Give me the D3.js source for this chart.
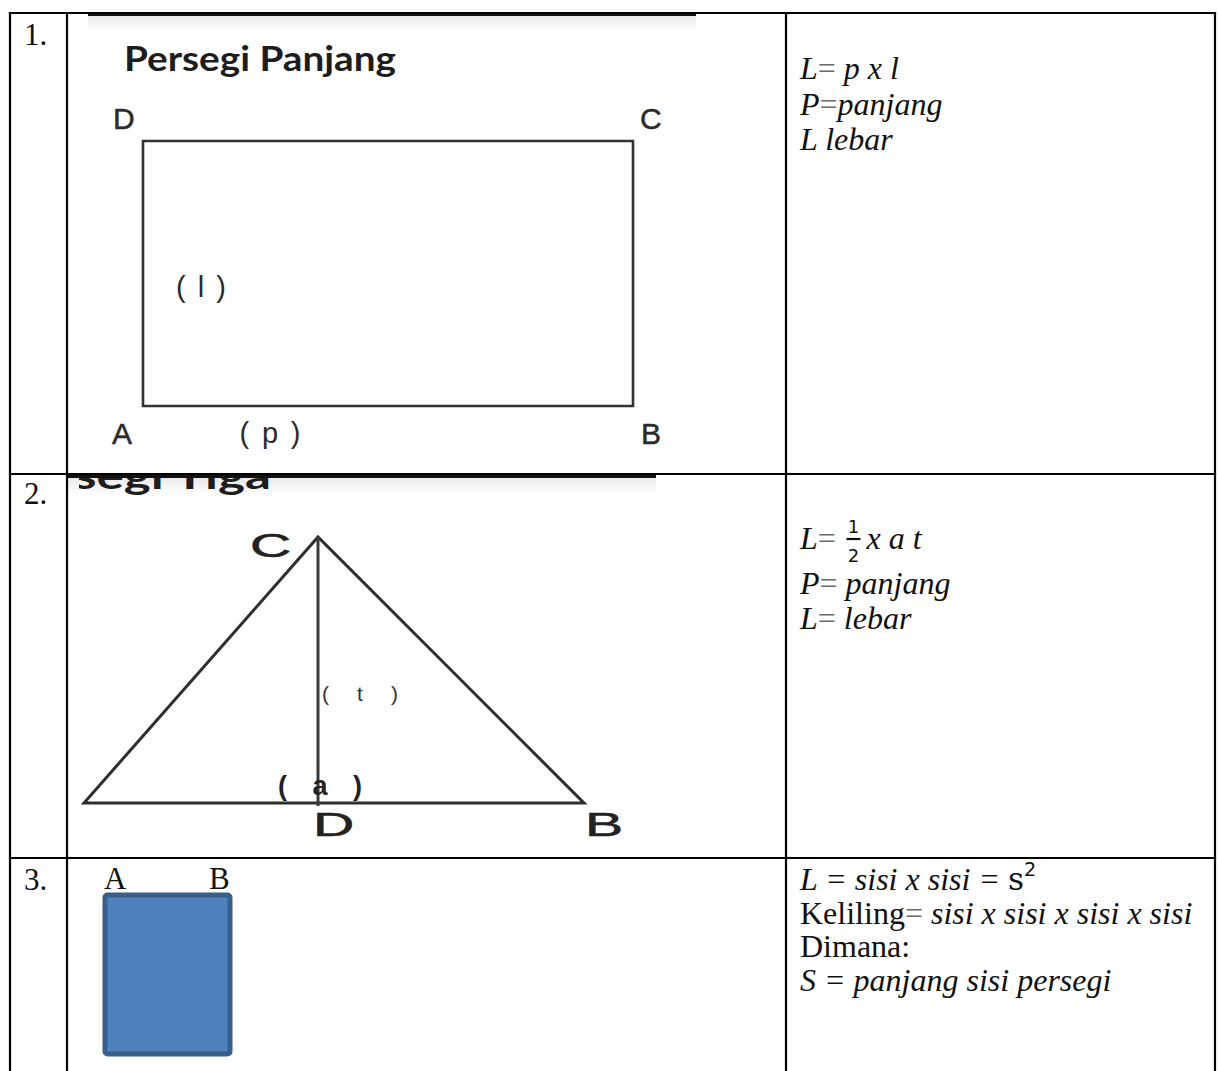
<!DOCTYPE html>
<html>
<head>
<meta charset="utf-8">
<script src="https://cdn.jsdelivr.net/npm/d3@7"></script>
<style>
  html,body{margin:0;padding:0;background:#fff;}
  svg{display:block;}
</style>
</head>
<body>
<svg id="c" width="1218" height="1071"></svg>
<script>
// ---------- DATA ----------
const rowNumbers = ["1.", "2.", "3."];
// rectangle (persegi panjang): p = 13, l = 7 (figure units)
const rectPoints = [
  {name: "A", x: 0,  y: 0},
  {name: "B", x: 13, y: 0},
  {name: "C", x: 13, y: 7},
  {name: "D", x: 0,  y: 7}
];
const rectDims = {p: 13, l: 7};
// triangle (segi tiga): base a = 50, height t = 26.6 (figure units)
const triPoints = [
  {name: "A", x: 0,    y: 0},
  {name: "B", x: 50,   y: 0},
  {name: "C", x: 23.4, y: 26.6}
];
const triFoot = {name: "D", x: 23.4, y: 0};
const triDims = {a: 50, t: 26.6};
// square (persegi)
const squareDims = {w: 10, h: 12.7};
const squareLabels = ["A", "B"];

// the second title is cut off in the scanned picture: only "segi Tiga" shows
const figureTitles = ["Persegi Panjang", "segi Tiga"];
const sideLabels = {rectWidth: "(l)", rectLength: "(p)", triHeight: "( t )", triBase: "( a )"};

// formulas: segments  i = italic, g = grey "=" sign, n = normal
const formulas1 = [
  [{t: "L", s: "i"}, {t: "=", s: "g"}, {t: " p x l", s: "i"}],
  [{t: "P", s: "i"}, {t: "=", s: "g"}, {t: "panjang", s: "i"}],
  [{t: "L lebar", s: "i"}]
];
const formulas2 = [
  [{t: "L", s: "i"}, {t: "=", s: "g"}, {t: "FRAC", s: "f"}, {t: "x a t", s: "i"}],
  [{t: "P", s: "i"}, {t: "=", s: "g"}, {t: " panjang", s: "i"}],
  [{t: "L", s: "i"}, {t: "=", s: "g"}, {t: " lebar", s: "i"}]
];
const fraction = {num: "1", den: "2"};
const formulas3 = [
  [{t: "L = sisi x sisi = ", s: "i"}, {t: "s", s: "m"}, {t: "2", s: "sup"}],
  [{t: "Keliling", s: "n"}, {t: "=", s: "g"}, {t: " sisi x sisi x sisi x sisi", s: "i"}],
  [{t: "Dimana:", s: "n"}],
  [{t: "S = panjang sisi persegi", s: "i"}]
];

// ---------- LAYOUT ----------
const svg = d3.select("#c");
svg.append("rect").attr("width", 1218).attr("height", 1071).attr("fill", "#fff");

const serif = "'Liberation Serif','Times New Roman',serif";
const sans = "'Liberation Sans',Arial,sans-serif";
const calib = "Lato,'Open Sans',sans-serif";

const colX = [10, 67, 786, 1215];
const rowY = [13, 474, 858, 1071];

// ---------- image backgrounds (scanned figure areas) ----------
const defs = svg.append("defs");
const grad = defs.append("linearGradient").attr("id", "shade").attr("x1", 0).attr("y1", 0).attr("x2", 0).attr("y2", 1);
grad.append("stop").attr("offset", 0).attr("stop-color", "#e9e9e9");
grad.append("stop").attr("offset", 1).attr("stop-color", "#ffffff");

// image 1
svg.append("rect").attr("x", 88).attr("y", 15).attr("width", 608).attr("height", 16).attr("fill", "url(#shade)");
svg.append("rect").attr("x", 88).attr("y", 12).attr("width", 608).attr("height", 4).attr("fill", "#111");
// image 2
svg.append("rect").attr("x", 68).attr("y", 477).attr("width", 588).attr("height", 18).attr("fill", "url(#shade)");

// ---------- FIGURE 1 : rectangle ----------
const rx = d3.scaleLinear().domain([0, rectDims.p]).range([143, 633]);
const ry = d3.scaleLinear().domain([0, rectDims.l]).range([406, 141]);

svg.append("text").text(figureTitles[0])
  .attr("x", 124).attr("y", 71)
  .attr("font-family", calib).attr("font-weight", 700).attr("font-size", 34)
  .attr("textLength", 272).attr("lengthAdjust", "spacingAndGlyphs")
  .attr("fill", "#1d1d1d");

svg.append("path")
  .attr("d", d3.line().x(d => rx(d.x)).y(d => ry(d.y)).curve(d3.curveLinearClosed)(rectPoints))
  .attr("fill", "none").attr("stroke", "#333").attr("stroke-width", 2.6);

const rectLabelOff = {A: [-31, 38], B: [8, 38], C: [7, -12], D: [-30, -12]};
svg.selectAll("text.rl").data(rectPoints).join("text").attr("class", "rl")
  .attr("x", d => rx(d.x) + rectLabelOff[d.name][0])
  .attr("y", d => ry(d.y) + rectLabelOff[d.name][1])
  .text(d => d.name)
  .attr("font-family", sans).attr("font-size", 30).attr("fill", "#2b2b2b")
  .attr("stroke", "#2b2b2b").attr("stroke-width", 0.5);

svg.append("text").text(sideLabels.rectWidth)
  .attr("x", rx(0) + 33).attr("y", ry(rectDims.l * 0.42) + 2)
  .attr("font-family", sans).attr("font-size", 29).attr("fill", "#2b2b2b")
  .attr("textLength", 50).attr("lengthAdjust", "spacing");
svg.append("text").text(sideLabels.rectLength)
  .attr("x", rx(rectDims.p * 0.197)).attr("y", ry(0) + 37)
  .attr("font-family", sans).attr("font-size", 29).attr("fill", "#2b2b2b")
  .attr("textLength", 61).attr("lengthAdjust", "spacing");

// ---------- FIGURE 2 : triangle ----------
const clip = defs.append("clipPath").attr("id", "img2clip");
clip.append("rect").attr("x", 79).attr("y", 478).attr("width", 577).attr("height", 380);

svg.append("text").text(figureTitles[1])
  .attr("x", 74).attr("y", 489)
  .attr("clip-path", "url(#img2clip)")
  .attr("font-family", calib).attr("font-weight", 700).attr("font-size", 36)
  .attr("textLength", 197).attr("lengthAdjust", "spacingAndGlyphs")
  .attr("fill", "#1d1d1d");
svg.append("rect").attr("x", 68).attr("y", 474).attr("width", 588).attr("height", 4).attr("fill", "#111");

const tx = d3.scaleLinear().domain([0, triDims.a]).range([84, 584]);
const ty = d3.scaleLinear().domain([0, triDims.t]).range([803, 537]);

svg.append("path")
  .attr("d", d3.line().x(d => tx(d.x)).y(d => ty(d.y)).curve(d3.curveLinearClosed)(triPoints))
  .attr("fill", "none").attr("stroke", "#2e2e2e").attr("stroke-width", 3).attr("stroke-linejoin", "miter");
svg.append("line")
  .attr("x1", tx(triFoot.x)).attr("y1", ty(triDims.t))
  .attr("x2", tx(triFoot.x)).attr("y2", ty(triFoot.y) + 3)
  .attr("stroke", "#3a3a3a").attr("stroke-width", 3);

const triLabels = [
  {name: "C", x: triPoints[2].x, y: triPoints[2].y, dx: -68, dy: 20},
  {name: "D", x: triFoot.x, y: triFoot.y, dx: -5, dy: 33},
  {name: "B", x: triPoints[1].x, y: triPoints[1].y, dx: 1, dy: 33}
];
svg.selectAll("text.tl").data(triLabels).join("text").attr("class", "tl")
  .attr("transform", d => `translate(${tx(d.x) + d.dx},${ty(d.y) + d.dy}) scale(1.68,1)`)
  .text(d => d.name)
  .attr("font-family", sans).attr("font-size", 34).attr("fill", "#222")
  .attr("stroke", "#222").attr("stroke-width", 0.6);

svg.append("text").text(sideLabels.triHeight)
  .attr("x", tx(triFoot.x) + 4).attr("y", ty(triDims.t * 0.385))
  .attr("font-family", sans).attr("font-size", 21).attr("fill", "#333")
  .attr("textLength", 76).attr("lengthAdjust", "spacing");
svg.append("text").text(sideLabels.triBase)
  .attr("x", tx(triFoot.x) - 40).attr("y", ty(0) - 8)
  .attr("font-family", sans).attr("font-weight", 700).attr("font-size", 27).attr("fill", "#222")
  .attr("textLength", 84).attr("lengthAdjust", "spacing");

// ---------- FIGURE 3 : square ----------
const sx = d3.scaleLinear().domain([0, squareDims.w]).range([105, 230]);
const sy = d3.scaleLinear().domain([0, squareDims.h]).range([1054, 895]);
svg.append("rect")
  .attr("x", sx(0)).attr("y", sy(squareDims.h))
  .attr("width", sx(squareDims.w) - sx(0)).attr("height", sy(0) - sy(squareDims.h))
  .attr("rx", 2.5)
  .attr("fill", "#4f81bd").attr("stroke", "#3a5f8d").attr("stroke-width", 5);
svg.selectAll("text.sl").data(squareLabels).join("text").attr("class", "sl")
  .attr("x", (d, i) => i === 0 ? sx(0) - 1 : sx(squareDims.w) - 21)
  .attr("y", sy(squareDims.h) - 6)
  .text(d => d)
  .attr("font-family", serif).attr("font-size", 31).attr("fill", "#111");

// ---------- TABLE LINES ----------
const lines = [];
lines.push({x1: colX[0], y1: rowY[0], x2: colX[3], y2: rowY[0]});
lines.push({x1: colX[0], y1: rowY[1], x2: colX[3], y2: rowY[1]});
lines.push({x1: colX[0], y1: rowY[2], x2: colX[3], y2: rowY[2]});
colX.forEach(x => lines.push({x1: x, y1: rowY[0], x2: x, y2: rowY[3]}));
svg.selectAll("line.grid").data(lines).join("line").attr("class", "grid")
  .attr("x1", d => d.x1).attr("y1", d => d.y1).attr("x2", d => d.x2).attr("y2", d => d.y2)
  .attr("stroke", "#000").attr("stroke-width", 2.2).attr("stroke-linecap", "square");

// ---------- ROW NUMBERS ----------
const numY = [45, 504, 890];
svg.selectAll("text.num").data(rowNumbers).join("text").attr("class", "num")
  .attr("x", 24).attr("y", (d, i) => numY[i]).text(d => d)
  .attr("font-family", serif).attr("font-size", 31).attr("fill", "#111");

// ---------- FORMULAS ----------
const fracX = 853.5;
function drawFormula(lineData, x, ys, size) {
  lineData.forEach((segs, li) => {
    const t = svg.append("text").attr("x", x).attr("y", ys[li])
      .attr("font-family", serif).attr("font-size", size).attr("fill", "#111")
      .attr("style", "white-space:pre");
    let afterFrac = false;
    segs.forEach(sg => {
      if (sg.s === "f") { afterFrac = true; return; }
      const ts = t.append("tspan").text(sg.t);
      if (afterFrac) { ts.attr("x", fracX + 13); afterFrac = false; }
      if (sg.s === "i") ts.attr("font-style", "italic");
      if (sg.s === "g") ts.attr("fill", "#6b6b6b");
      if (sg.s === "m") ts.attr("font-family", "'DejaVu Serif',serif").attr("font-size", size * 0.98);
      if (sg.s === "sup") ts.attr("font-size", size * 0.6).attr("dy", -14).attr("font-family", "'DejaVu Sans',sans-serif");
    });
  });
}
drawFormula(formulas1, 800, [79, 115, 150], 32);
drawFormula(formulas2, 800, [549, 594, 629], 32);
drawFormula(formulas3, 800, [890, 924, 957, 991], 32);

// fraction 1/2 in row 2
svg.append("text").text(fraction.num).attr("x", fracX).attr("y", 533).attr("text-anchor", "middle")
  .attr("font-family", "'DejaVu Sans',sans-serif").attr("font-size", 18).attr("fill", "#111");
svg.append("line").attr("x1", fracX - 7).attr("x2", fracX + 7).attr("y1", 539).attr("y2", 539)
  .attr("stroke", "#111").attr("stroke-width", 2.2);
svg.append("text").text(fraction.den).attr("x", fracX).attr("y", 562).attr("text-anchor", "middle")
  .attr("font-family", "'DejaVu Sans',sans-serif").attr("font-size", 18).attr("fill", "#111");
</script>
</body>
</html>
